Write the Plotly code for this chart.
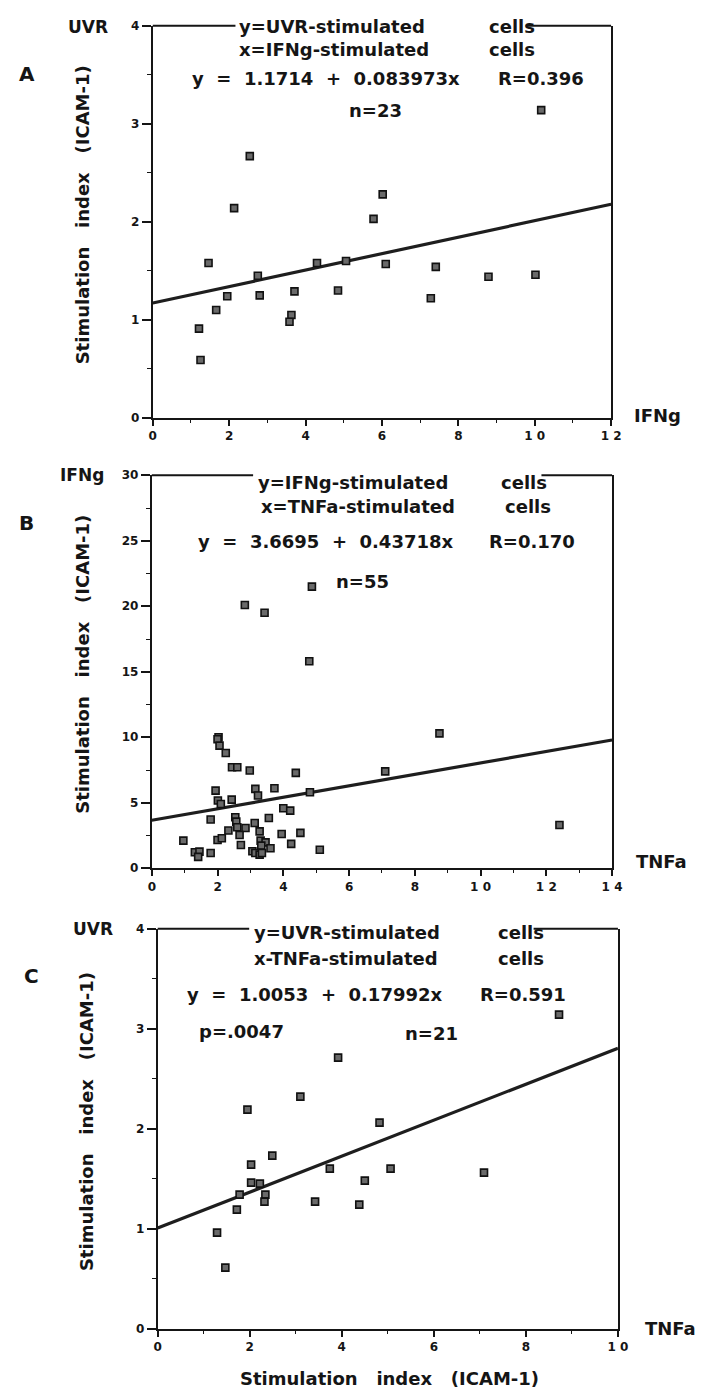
import plotly.graph_objects as go

W, H = 727, 1396

# ---------------- data ----------------
# Panel A: x = IFNg-stimulated, y = UVR-stimulated
a_x = [10.17, 2.54, 6.02, 2.13, 5.78, 1.46, 4.30, 5.06, 6.10, 7.41, 2.75, 8.79,
       10.02, 1.95, 2.80, 3.71, 4.85, 7.28, 1.66, 3.63, 3.58, 1.21, 1.25]
a_y = [3.14, 2.67, 2.28, 2.14, 2.03, 1.58, 1.58, 1.60, 1.57, 1.54, 1.45, 1.44,
       1.46, 1.24, 1.25, 1.29, 1.30, 1.22, 1.10, 1.05, 0.98, 0.91, 0.59]

# Panel B: x = TNFa-stimulated, y = IFNg-stimulated
b_x = [2.03, 2.00, 2.06, 2.25, 2.44, 2.60, 2.98, 4.38, 1.94, 3.15, 3.23, 3.73,
       2.01, 2.10, 2.43, 4.81, 4.00, 4.21, 1.79, 2.54, 2.57, 3.56, 3.13, 2.33,
       2.60, 2.85, 3.28, 2.67, 3.95, 4.52, 0.96, 2.00, 2.13, 3.31, 2.71, 3.46,
       3.33, 3.61, 4.24, 5.11, 1.31, 1.45, 1.41, 1.79, 3.06, 3.15, 3.28, 3.35,
       2.83, 3.43, 4.87, 4.79, 7.10, 8.75, 12.40]
b_y = [10.0, 9.85, 9.36, 8.80, 7.71, 7.71, 7.46, 7.28, 5.93, 6.06, 5.55, 6.11,
       5.17, 4.91, 5.24, 5.80, 4.58, 4.40, 3.72, 3.89, 3.56, 3.84, 3.46, 2.88,
       3.13, 3.08, 2.82, 2.54, 2.62, 2.70, 2.11, 2.16, 2.29, 2.11, 1.78, 1.98,
       1.73, 1.53, 1.86, 1.42, 1.22, 1.27, 0.87, 1.17, 1.30, 1.17, 1.04, 1.17,
       20.1, 19.5, 21.5, 15.8, 7.40, 10.3, 3.30]

# Panel C: x = TNFa-stimulated, y = UVR-stimulated
c_x = [8.72, 3.92, 3.10, 1.95, 4.82, 2.49, 2.03, 3.74, 5.06, 7.09, 4.50,
       2.03, 2.22, 1.78, 2.34, 2.32, 3.42, 4.38, 1.72, 1.29, 1.47]
c_y = [3.14, 2.71, 2.32, 2.19, 2.06, 1.73, 1.64, 1.60, 1.60, 1.56, 1.48,
       1.46, 1.45, 1.34, 1.34, 1.27, 1.27, 1.24, 1.19, 0.96, 0.61]

# Regression fits (intercept, slope) as printed on the chart
fit_a = (1.1714, 0.083973)
fit_b = (3.6695, 0.43718)
fit_c = (1.0053, 0.17992)

# axis ranges / ticks
a_xrange, a_yrange = (0, 12), (0, 4)
b_xrange, b_yrange = (0, 14), (0, 30)
c_xrange, c_yrange = (0, 10), (0, 4)
a_xticks = [0, 2, 4, 6, 8, 10, 12]
a_xticktext = ["0", "2", "4", "6", "8", "1 0", "1 2"]
b_xticks = [0, 2, 4, 6, 8, 10, 12, 14]
b_xticktext = ["0", "2", "4", "6", "8", "1 0", "1 2", "1 4"]
c_xticks = [0, 2, 4, 6, 8, 10]
c_xticktext = ["0", "2", "4", "6", "8", "1 0"]

# ---------------- helpers ----------------
def px(x):
    return x / W


def py(y):
    return 1 - y / H


INK = "#151515"
FONT = "DejaVu Sans"
NB = "\u00a0"

fig = go.Figure()

marker = dict(symbol="square", size=7, color="#6a6a6a",
              line=dict(color="#111111", width=1.6))

panels = [
    (a_x, a_y, fit_a, a_xrange, "x", "y"),
    (b_x, b_y, fit_b, b_xrange, "x2", "y2"),
    (c_x, c_y, fit_c, c_xrange, "x3", "y3"),
]
for xs, ys, (b0, b1), xr, xa, ya in panels:
    lx = [xr[0], xr[1]]
    ly = [b0 + b1 * v for v in lx]
    fig.add_trace(go.Scatter(x=lx, y=ly, mode="lines", xaxis=xa, yaxis=ya,
                             line=dict(color="#1e1e1e", width=3.2),
                             showlegend=False, hoverinfo="skip"))
    fig.add_trace(go.Scatter(x=xs, y=ys, mode="markers", xaxis=xa, yaxis=ya,
                             marker=marker, showlegend=False))

tickfont = dict(family=FONT, size=12, color=INK, weight="bold")


def xaxis(domain, anchor, rng, vals, text):
    return dict(domain=domain, anchor=anchor, range=list(rng), tickvals=vals,
                ticktext=text, showline=True, linewidth=2, linecolor=INK,
                ticks="outside", ticklen=6, tickwidth=1.6, tickcolor=INK,
                showgrid=False, zeroline=False, tickfont=tickfont,
                minor=dict(ticks="outside", ticklen=3, tickwidth=1.4,
                           tickcolor=INK, dtick=1, showgrid=False),
                fixedrange=True)


def yaxis(domain, anchor, rng, dtick, mdtick):
    return dict(domain=domain, anchor=anchor, range=list(rng), dtick=dtick,
                tick0=0, showline=True, linewidth=2, linecolor=INK,
                mirror=True, ticks="outside", ticklen=9, tickwidth=1.6,
                tickcolor=INK, showgrid=False, zeroline=False,
                tickfont=tickfont,
                minor=dict(ticks="outside", ticklen=4, tickwidth=1.4,
                           tickcolor=INK, dtick=mdtick, tick0=0,
                           showgrid=False),
                fixedrange=True)


# pixel geometry of the three plot areas
A = dict(l=151.7, r=619, t=19, b=415)
B = dict(l=150.7, r=620, t=473, b=870)
C = dict(l=156.7, r=626, t=931, b=1335)

fig.update_layout(
    width=W, height=H,
    margin=dict(l=0, r=0, t=0, b=0),
    paper_bgcolor="white", plot_bgcolor="white",
    xaxis=xaxis([px(A["l"]), px(A["r"])], "y", a_xrange, a_xticks, a_xticktext),
    yaxis=yaxis([py(A["b"]), py(A["t"])], "x", a_yrange, 1, 0.5),
    xaxis2=xaxis([px(B["l"]), px(B["r"])], "y2", b_xrange, b_xticks, b_xticktext),
    yaxis2=yaxis([py(B["b"]), py(B["t"])], "x2", b_yrange, 5, 2.5),
    xaxis3=xaxis([px(C["l"]), px(C["r"])], "y3", c_xrange, c_xticks, c_xticktext),
    yaxis3=yaxis([py(C["b"]), py(C["t"])], "x3", c_yrange, 1, 0.5),
)

# top border segments (interrupted by the heading text)
shapes = []
for P, gap_l, gap_r in [(A, 236, 532), (B, 254, 548), (C, 250, 540)]:
    for x0, x1 in [(P["l"], gap_l), (gap_r, P["r"])]:
        shapes.append(dict(type="line", xref="paper", yref="paper",
                           x0=px(x0), x1=px(x1), y0=py(P["t"]), y1=py(P["t"]),
                           line=dict(color=INK, width=2)))
fig.update_layout(shapes=shapes)

ann = []


def T(text, x, y, size=18, xanchor="left", angle=0):
    ann.append(dict(text=text, x=px(x), y=py(y), xref="paper", yref="paper",
                    xanchor=xanchor, yanchor="middle", showarrow=False,
                    textangle=angle,
                    font=dict(family=FONT, size=size, color=INK,
                              weight="bold")))


S3 = NB * 3
S2 = NB * 2
ytitle = "Stimulation" + S3 + "index" + S3 + "(ICAM-1)"

# Panel A
T("UVR", 108, 20, 17, "right")
T("A", 13, 68, 20)
T(ytitle, 80, 210, 18, "center", -90)
T("IFNg", 640, 413, 18)
T("y=UVR-stimulated", 238, 20)
T("cells", 492, 20)
T("x=IFNg-stimulated", 238, 43)
T("cells", 492, 43)
T("y" + S2 + "=" + S2 + "1.1714" + S2 + "+" + S2 + "0.083973x", 190, 72)
T("R=0.396", 502, 72)
T("n=23", 350, 105)

# Panel B
T("IFNg", 104, 473, 17, "right")
T("B", 13, 521, 20)
T(ytitle, 80, 664, 18, "center", -90)
T("TNFa", 642, 863, 18)
T("y=IFNg-stimulated", 257, 480)
T("cells", 505, 480)
T("x=TNFa-stimulated", 260, 505)
T("cells", 509, 505)
T("y" + S2 + "=" + S2 + "3.6695" + S2 + "+" + S2 + "0.43718x", 196, 540)
T("R=0.170", 492, 540)
T("n=55", 336, 580)

# Panel C
T("UVR", 113, 931, 17, "right")
T("C", 18, 979, 20)
T(ytitle, 84, 1126, 18, "center", -90)
T("TNFa", 652, 1335, 18)
T("y=UVR-stimulated", 253, 935)
T("cells", 502, 935)
T("x-TNFa-stimulated", 253, 961)
T("cells", 502, 961)
T("y" + S2 + "=" + S2 + "1.0053" + S2 + "+" + S2 + "0.17992x", 185, 997)
T("R=0.591", 483, 997)
T("p=.0047", 197, 1035)
T("n=21", 407, 1037)
T(ytitle, 393, 1385, 18, "center")

fig.update_layout(annotations=ann)

fig.write_html("out.html")
